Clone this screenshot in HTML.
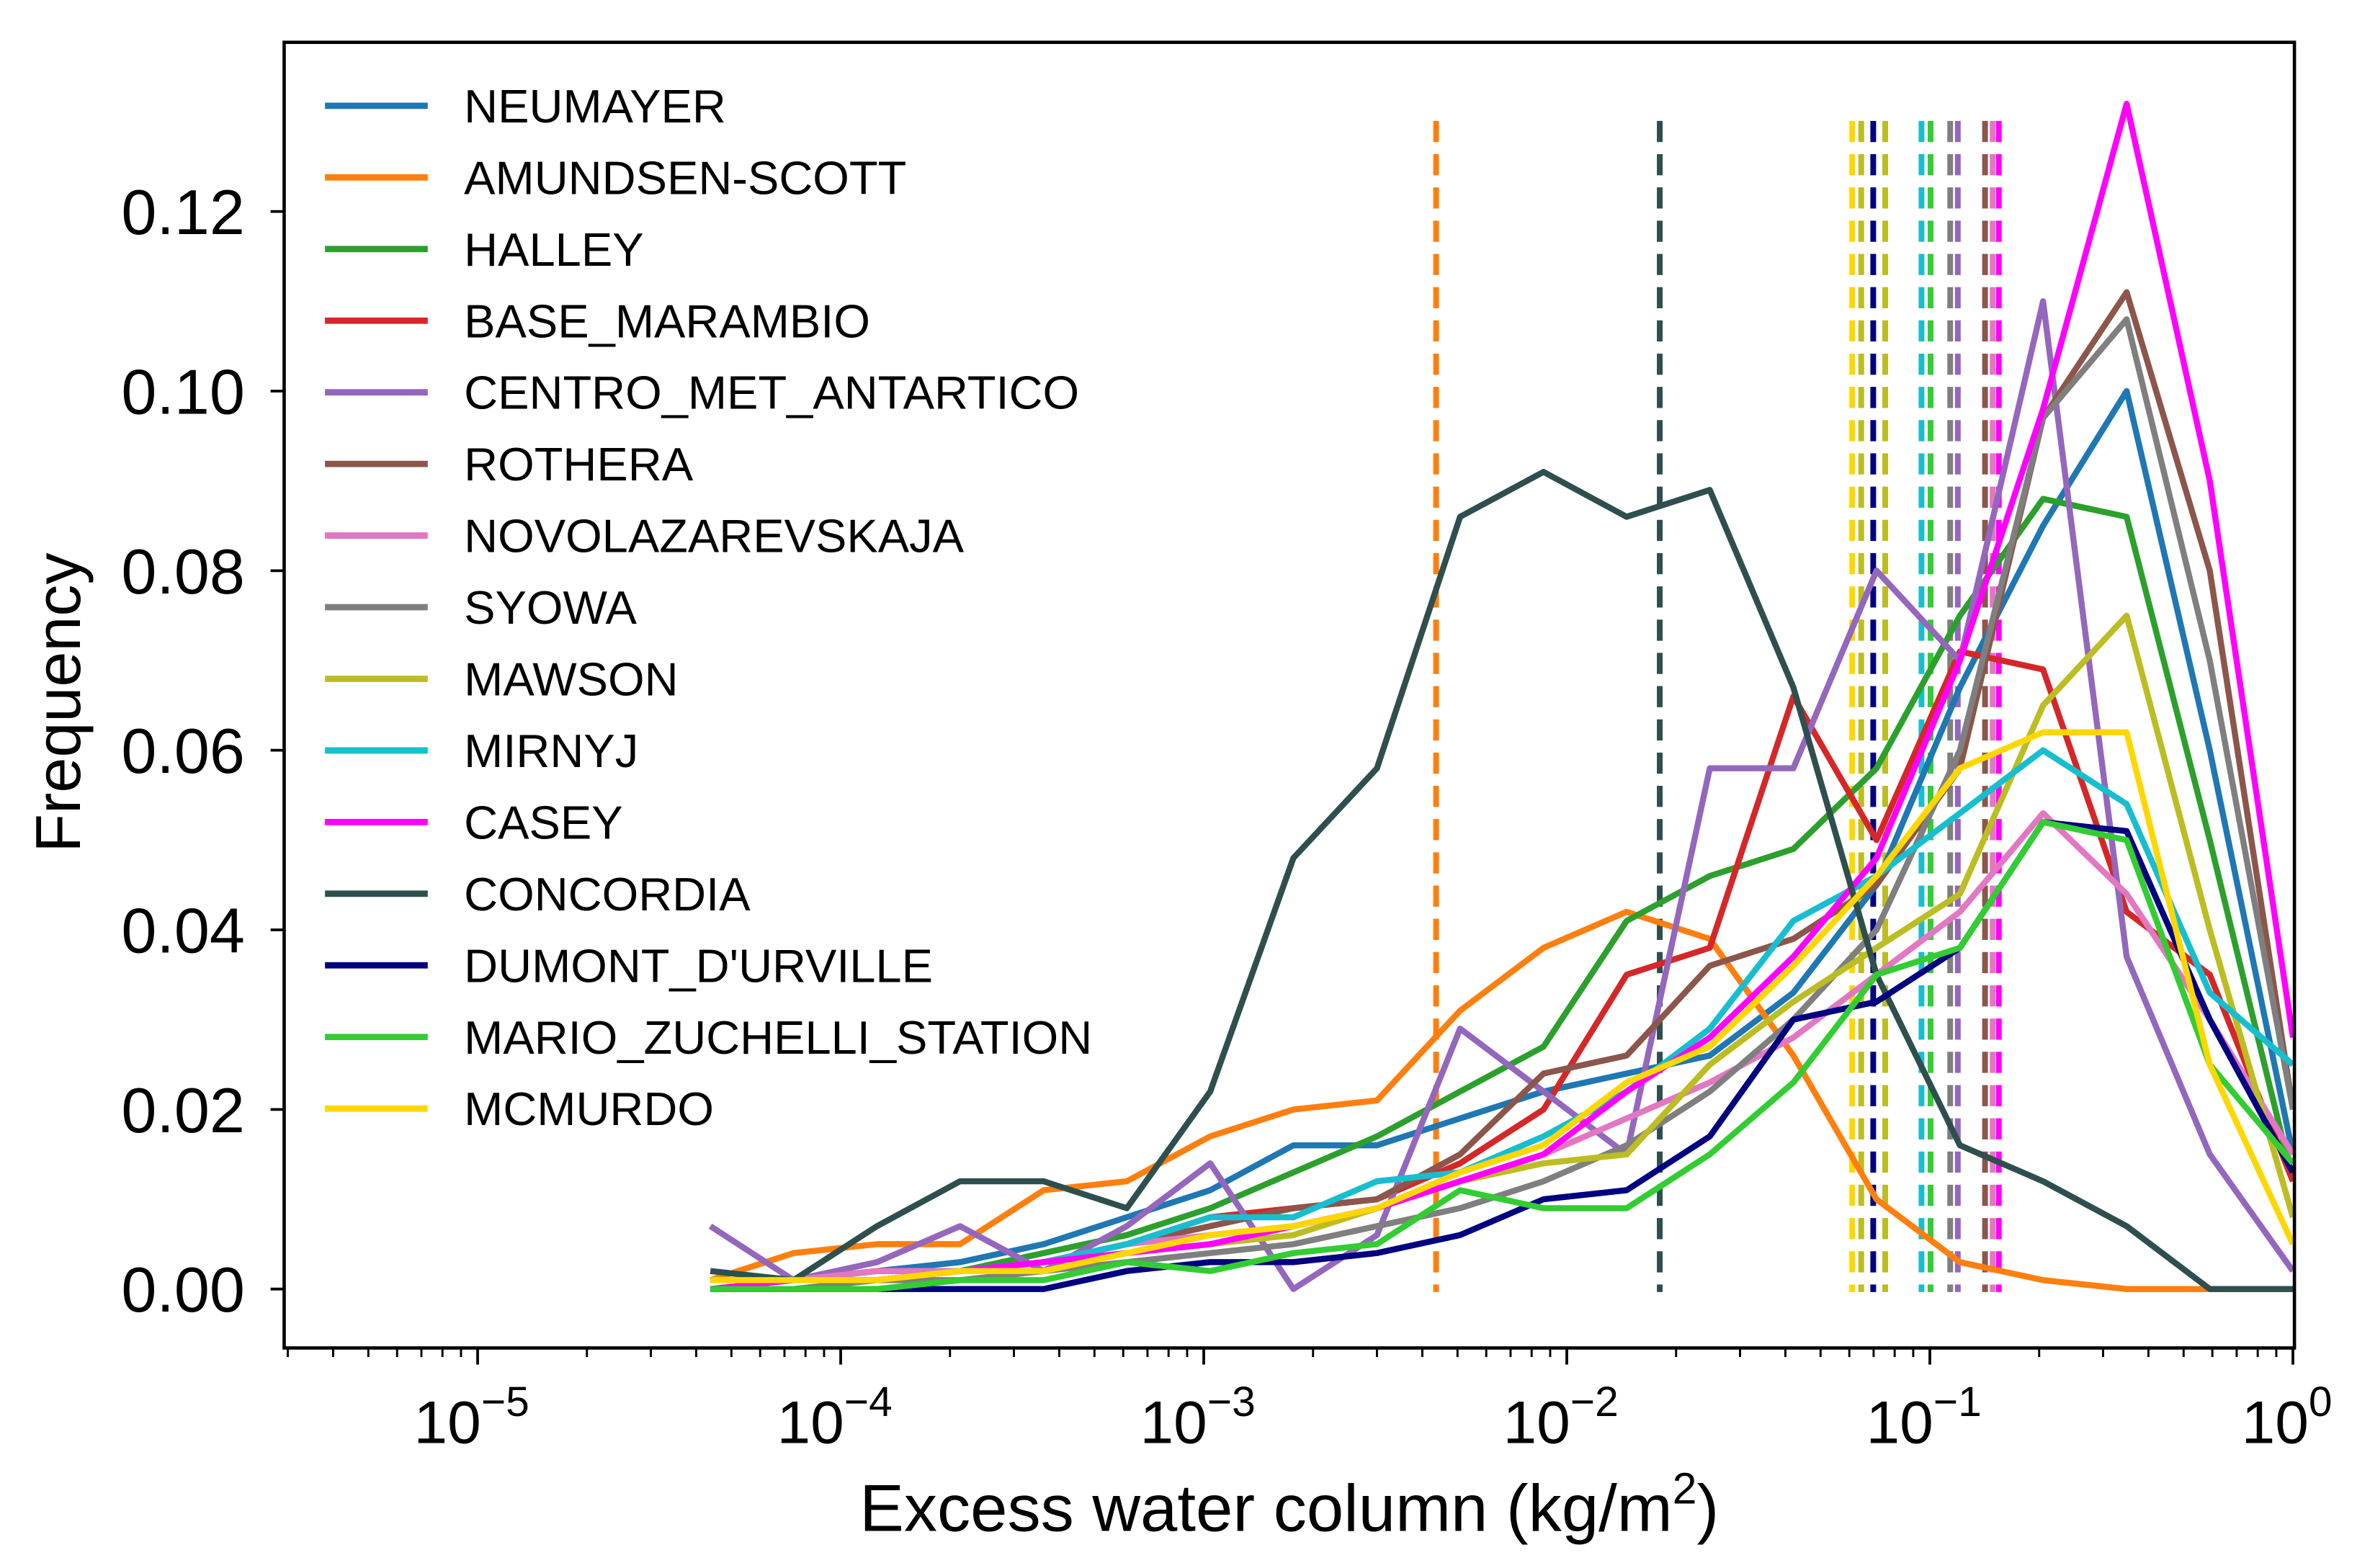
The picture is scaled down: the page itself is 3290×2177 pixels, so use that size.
<!DOCTYPE html>
<html><head><meta charset="utf-8"><style>
html,body{margin:0;padding:0;background:#fff;}
svg{display:block;font-family:"Liberation Sans","DejaVu Sans",sans-serif;}
</style></head><body>
<svg id="chart" width="3290" height="2177" viewBox="0 0 1568 1037.6" preserveAspectRatio="none" xmlns="http://www.w3.org/2000/svg">
<rect x="0" y="0" width="1568" height="1038" fill="#fff"/>
<g id="plot"></g>
<rect x="188" y="28" width="1330" height="864" fill="none" stroke="#000" stroke-width="2.2"/>
<g id="ticks"></g>
<g id="legend"></g>
<text x="0" y="0" transform="translate(53,465) rotate(-90)" font-size="42" text-anchor="middle">Frequency</text>
<text x="853" y="1013" font-size="44" text-anchor="middle">Excess water column (kg/m<tspan dy="-18" font-size="29">2</tspan><tspan dy="18">)</tspan></text>
</svg>
<script>
const names = ["NEUMAYER","AMUNDSEN-SCOTT","HALLEY","BASE_MARAMBIO","CENTRO_MET_ANTARTICO","ROTHERA","NOVOLAZAREVSKAJA","SYOWA","MAWSON","MIRNYJ","CASEY","CONCORDIA","DUMONT_D'URVILLE","MARIO_ZUCHELLI_STATION","MCMURDO"];
const colors = ["#1f77b4","#ff7f0e","#2ca02c","#d62728","#9467bd","#8c564b","#e377c2","#7f7f7f","#bcbd22","#17becf","#ff00ff","#2f4f4f","#000080","#32cd32","#ffd700"];
// bin centres as log10 exponents
const binExp = [-4.359,-4.130,-3.900,-3.671,-3.441,-3.212,-2.982,-2.753,-2.523,-2.294,-2.064,-1.835,-1.606,-1.376,-1.147,-0.917,-0.688,-0.458,-0.229,0.0];
const sNeumayer = [0.001,0.001,0.002,0.003,0.005,0.008,0.011,0.016,0.016,0.019,0.022,0.024,0.026,0.033,0.045,0.067,0.085,0.100,0.060,0.015];
const sAmundsen = [0.001,0.004,0.005,0.005,0.011,0.012,0.017,0.020,0.021,0.031,0.038,0.042,0.039,0.026,0.010,0.003,0.001,0.000,0.000,0.000];
const sHalley = [0.001,0.001,0.001,0.002,0.004,0.006,0.009,0.013,0.017,0.022,0.027,0.041,0.046,0.049,0.058,0.075,0.088,0.086,0.050,0.012];
const sMarambio = [0.001,0.001,0.001,0.002,0.003,0.005,0.008,0.009,0.010,0.014,0.020,0.035,0.038,0.066,0.050,0.071,0.069,0.042,0.035,0.012];
const sCentro = [0.007,0.001,0.003,0.007,0.002,0.007,0.014,0.000,0.006,0.029,0.022,0.015,0.058,0.058,0.080,0.070,0.110,0.037,0.015,0.002];
const sRothera = [0.001,0.001,0.002,0.002,0.003,0.005,0.007,0.009,0.010,0.015,0.024,0.026,0.036,0.039,0.045,0.058,0.097,0.111,0.080,0.020];
const sNovo = [0.001,0.001,0.002,0.002,0.003,0.005,0.006,0.007,0.009,0.012,0.015,0.019,0.023,0.028,0.035,0.042,0.053,0.044,0.030,0.015];
const sSyowa = [0.000,0.000,0.001,0.001,0.002,0.003,0.004,0.005,0.007,0.009,0.012,0.016,0.022,0.030,0.040,0.060,0.097,0.108,0.070,0.020];
const sMawson = [0.001,0.001,0.001,0.002,0.003,0.004,0.005,0.006,0.009,0.012,0.014,0.015,0.025,0.032,0.038,0.044,0.065,0.075,0.040,0.008];
const sMirnyj = [0.001,0.001,0.001,0.002,0.003,0.005,0.008,0.008,0.012,0.013,0.017,0.022,0.029,0.041,0.046,0.053,0.060,0.054,0.033,0.025];
const sCasey = [0.000,0.001,0.001,0.002,0.003,0.004,0.005,0.007,0.009,0.012,0.015,0.022,0.028,0.037,0.048,0.070,0.098,0.132,0.090,0.028];
const sConcordia = [0.002,0.001,0.007,0.012,0.012,0.009,0.022,0.048,0.058,0.086,0.091,0.086,0.089,0.067,0.035,0.016,0.012,0.007,0.000,0.000];
const sDumont = [0.000,0.000,0.000,0.000,0.000,0.002,0.003,0.003,0.004,0.006,0.010,0.011,0.017,0.030,0.032,0.038,0.052,0.051,0.030,0.013];
const sMario = [0.000,0.000,0.000,0.001,0.001,0.003,0.002,0.004,0.005,0.011,0.009,0.009,0.015,0.023,0.035,0.038,0.052,0.050,0.025,0.014];
const sMcmurdo = [0.001,0.001,0.001,0.002,0.002,0.004,0.006,0.007,0.009,0.013,0.016,0.023,0.027,0.036,0.046,0.058,0.062,0.062,0.025,0.005];
const series = [sNeumayer,sAmundsen,sHalley,sMarambio,sCentro,sRothera,sNovo,sSyowa,sMawson,sMirnyj,sCasey,sConcordia,sDumont,sMario,sMcmurdo];
// median lines (log10 exponents) and their station index
const medianExp = [-2.360,-1.744,-1.214,-1.189,-1.156,-1.123,-1.023,-0.998,-0.944,-0.923,-0.848,-0.827,-0.810];
const medianStation = [1,11,14,8,12,8,9,13,7,4,5,6,10];
const yTicks = [0,0.02,0.04,0.06,0.08,0.10,0.12];
const yTickLabels = ["0.00","0.02","0.04","0.06","0.08","0.10","0.12"];
const xMajor = [-5,-4,-3,-2,-1,0];
const xMajorLabels = ["\u22125","\u22124","\u22123","\u22122","\u22121","0"];

const NS="http://www.w3.org/2000/svg";
function X(e){return 316+(e+5)*240.2;}
function Y(v){return 853-v*5942;}
function mk(tag,attrs,parent){const el=document.createElementNS(NS,tag);for(const k in attrs)el.setAttribute(k,attrs[k]);parent.appendChild(el);return el;}
const plot=document.getElementById('plot'), ticks=document.getElementById('ticks'), legend=document.getElementById('legend');

medianExp.forEach((e,i)=>{
  const l=mk('line',{x1:X(e),x2:X(e),y1:80,y2:855,stroke:colors[medianStation[i]],'stroke-width':3.8,'stroke-dasharray':'14 8'},plot);
  
  
});
series.forEach((s,i)=>{
  const pts=s.map((v,k)=>X(binExp[k]).toFixed(1)+','+Y(v).toFixed(1)).join(' ');
  const p=mk('polyline',{points:pts,fill:'none',stroke:colors[i],'stroke-width':4,'stroke-linejoin':'round'},plot);
  
  
});
yTicks.forEach((v,i)=>{
  mk('line',{x1:179,x2:188,y1:Y(v),y2:Y(v),stroke:'#000','stroke-width':1.8},ticks);
  const t=mk('text',{x:162,y:Y(v)+15,'font-size':42,'text-anchor':'end'},ticks);
  t.textContent=yTickLabels[i];
  
  
});
for(let d=-6; d<0; d++){
  for(let m=2;m<=9;m++){
    const x=X(d+Math.log10(m));
    if(x>188&&x<1518) mk('line',{x1:x,x2:x,y1:892,y2:898,stroke:'#000','stroke-width':1.4},ticks);
  }
}
xMajor.forEach((e,i)=>{
  mk('line',{x1:X(e),x2:X(e),y1:892,y2:903,stroke:'#000','stroke-width':1.8},ticks);
  const t=mk('text',{x:X(e)-4,y:955,'font-size':40,'text-anchor':'middle'},ticks);
  
  
  t.textContent='10';
  const sp=mk('tspan',{dy:-18,'font-size':28},t); sp.textContent=xMajorLabels[i];
});
names.forEach((n,i)=>{
  const y=70+47.4*i;
  const g=mk('g',{},legend);
  
  
  mk('line',{x1:215,x2:283,y1:y,y2:y,stroke:colors[i],'stroke-width':4.2},g);
  const t=mk('text',{x:307,y:y+11,'font-size':31},g);
  t.textContent=n;
});
</script>
</body></html>
